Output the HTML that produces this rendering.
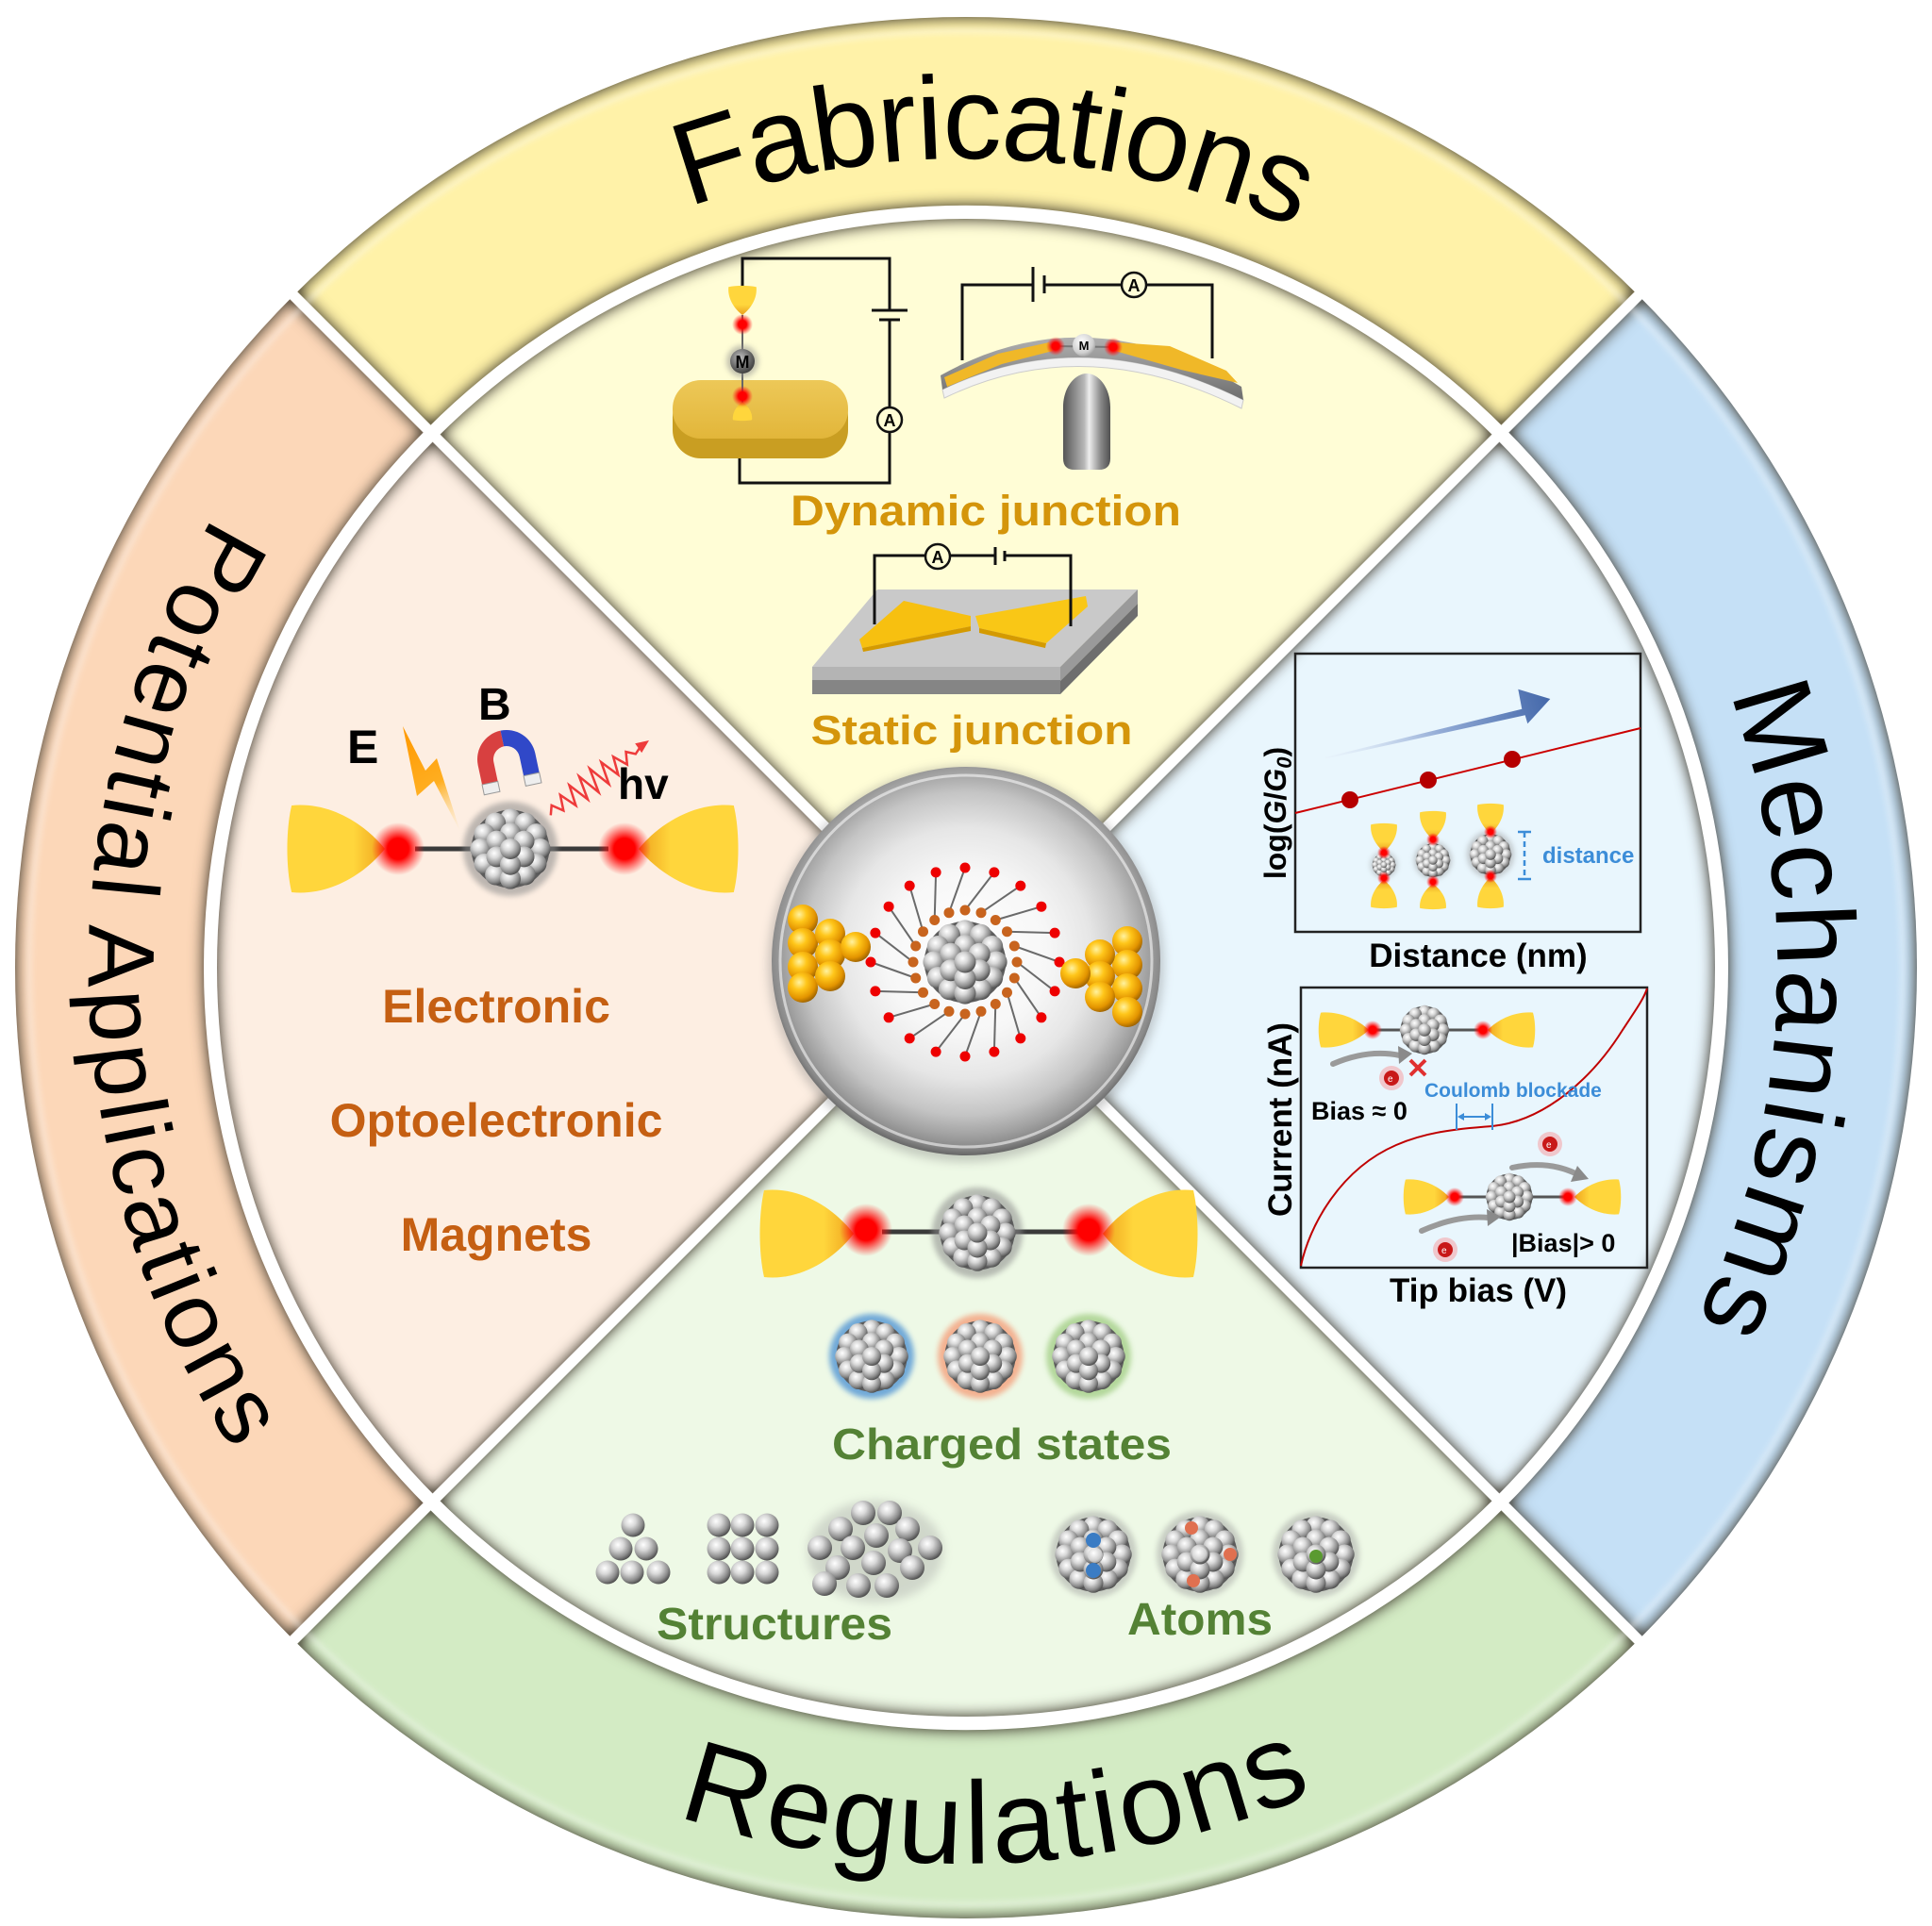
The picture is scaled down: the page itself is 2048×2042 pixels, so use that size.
<!DOCTYPE html>
<html><head><meta charset="utf-8">
<style>
html,body{margin:0;padding:0;background:#fff;width:2048px;height:2042px;overflow:hidden;}
svg{display:block;}
</style></head><body>
<svg width="2048" height="2042" viewBox="0 0 2048 2042" xmlns="http://www.w3.org/2000/svg" xmlns:xlink="http://www.w3.org/1999/xlink" font-family="'Liberation Sans', Arial, sans-serif">
<defs>
 <filter id="bev" x="-5%" y="-5%" width="110%" height="110%" color-interpolation-filters="sRGB">
  <feGaussianBlur in="SourceAlpha" stdDeviation="8" result="b"/>
  <feComposite in="SourceAlpha" in2="b" operator="out" result="e"/>
  <feComponentTransfer in="e" result="e2"><feFuncA type="linear" slope="1.6"/></feComponentTransfer>
  <feFlood flood-color="#3a3428" flood-opacity="0.7"/>
  <feComposite in2="e2" operator="in" result="s"/>
  <feMerge><feMergeNode in="SourceGraphic"/><feMergeNode in="s"/></feMerge>
 </filter>
 <filter id="bl3" x="-50%" y="-50%" width="200%" height="200%"><feGaussianBlur stdDeviation="3"/></filter>
 <filter id="bl5" x="-50%" y="-50%" width="200%" height="200%"><feGaussianBlur stdDeviation="5"/></filter>

 <clipPath id="wT"><polygon points="1024,1018 -100,-106 2148,-106"/></clipPath>
 <clipPath id="wR"><polygon points="1032,1026 2156,-98 2156,2150"/></clipPath>
 <clipPath id="wB"><polygon points="1024,1034 2148,2158 -100,2158"/></clipPath>
 <clipPath id="wL"><polygon points="1016,1026 -108,-98 -108,2150"/></clipPath>

 <path id="ring" fill-rule="evenodd" d="M16,1026 A1008,1008 0 1,0 2032,1026 A1008,1008 0 1,0 16,1026 Z M216,1026 A808,808 0 1,0 1832,1026 A808,808 0 1,0 216,1026 Z"/>
 <circle id="disc" cx="1024" cy="1026" r="794"/>

 <path id="pFab" d="M296.4,571.3 A858,858 0 0 1 1781.6,623.2" fill="none"/>
 <path id="pMech" d="M1492.4,304.7 A860,860 0 0 1 1414.4,1792.3" fill="none"/>
 <path id="pReg" d="M185.2,1471.6 A950,950 0 0 0 1891.8,1412.4" fill="none"/>
 <path id="pPot" d="M687,159.2 A930,930 0 0 0 725.1,1906.7" fill="none"/>

 <radialGradient id="gb" cx=".38" cy=".33" r=".7">
  <stop offset="0" stop-color="#FFF2A0"/><stop offset=".35" stop-color="#FFC61A"/><stop offset=".75" stop-color="#E39400"/><stop offset="1" stop-color="#9C6200"/>
 </radialGradient>
 <radialGradient id="sb" cx=".38" cy=".33" r=".7">
  <stop offset="0" stop-color="#FFFFFF"/><stop offset=".35" stop-color="#D8D8D8"/><stop offset=".75" stop-color="#8C8C8C"/><stop offset="1" stop-color="#4A4A4A"/>
 </radialGradient>
 <radialGradient id="rg">
  <stop offset="0" stop-color="#FF0000" stop-opacity="1"/><stop offset=".4" stop-color="#FF0000" stop-opacity="1"/><stop offset="1" stop-color="#FF2020" stop-opacity="0"/>
 </radialGradient>
 <radialGradient id="mg" cx=".4" cy=".35" r=".7">
  <stop offset="0" stop-color="#bdbdbd"/><stop offset=".6" stop-color="#6a6a6a"/><stop offset="1" stop-color="#3a3a3a"/>
 </radialGradient>
 <radialGradient id="mg2" cx=".4" cy=".35" r=".7">
  <stop offset="0" stop-color="#ffffff"/><stop offset=".7" stop-color="#d0d0d0"/><stop offset="1" stop-color="#9a9a9a"/>
 </radialGradient>
 <linearGradient id="tipL" x1="0" x2="1" y1="0" y2="0">
  <stop offset="0" stop-color="#FFD63C"/><stop offset=".68" stop-color="#FFD63C"/><stop offset="1" stop-color="#EFA21C"/>
 </linearGradient>
 <linearGradient id="tipR" x1="1" x2="0" y1="0" y2="0">
  <stop offset="0" stop-color="#FFD63C"/><stop offset=".68" stop-color="#FFD63C"/><stop offset="1" stop-color="#EFA21C"/>
 </linearGradient>
 <linearGradient id="tipD" x1="0" x2="0" y1="0" y2="1">
  <stop offset="0" stop-color="#FFD63C"/><stop offset=".65" stop-color="#FFD63C"/><stop offset="1" stop-color="#E9A01E"/>
 </linearGradient>
 <linearGradient id="tipU" x1="0" x2="0" y1="1" y2="0">
  <stop offset="0" stop-color="#FFD63C"/><stop offset=".65" stop-color="#FFD63C"/><stop offset="1" stop-color="#E9A01E"/>
 </linearGradient>
 <radialGradient id="sph" cx=".5" cy=".48" r=".52">
  <stop offset="0" stop-color="#FFFFFF"/><stop offset=".4" stop-color="#F7F7F7"/><stop offset=".62" stop-color="#E6E6E6"/><stop offset=".8" stop-color="#C4C4C4"/><stop offset=".9" stop-color="#A2A2A2"/><stop offset=".96" stop-color="#8A8A8A"/><stop offset="1" stop-color="#666666"/>
 </radialGradient>
 <linearGradient id="ba" gradientUnits="userSpaceOnUse" x1="1405" y1="803" x2="1643" y2="741">
  <stop offset="0" stop-color="#E6EEF8" stop-opacity=".3"/><stop offset=".5" stop-color="#93ACD6"/><stop offset="1" stop-color="#4468AA"/>
 </linearGradient>
 <linearGradient id="lg" gradientUnits="userSpaceOnUse" x1="427" y1="770" x2="488" y2="882">
  <stop offset="0" stop-color="#FF9800"/><stop offset=".55" stop-color="#FFAE20"/><stop offset="1" stop-color="#FFE0A0" stop-opacity="0"/>
 </linearGradient>
 <linearGradient id="rod" x1="0" x2="1" y1="0" y2="0">
  <stop offset="0" stop-color="#555"/><stop offset=".45" stop-color="#b8b8b8"/><stop offset=".55" stop-color="#eeeeee"/><stop offset=".8" stop-color="#888"/><stop offset="1" stop-color="#505050"/>
 </linearGradient>
 <linearGradient id="plate" x1="0" x2="0" y1="0" y2="1">
  <stop offset="0" stop-color="#b0b0b0"/><stop offset="1" stop-color="#6e6e6e"/>
 </linearGradient>
 <linearGradient id="gdisc" x1="0" x2="0" y1="0" y2="1">
  <stop offset="0" stop-color="#EDC858"/><stop offset="1" stop-color="#E2B63A"/>
 </linearGradient>

 <symbol id="cl" viewBox="-50 -50 100 100">
  <circle r="47" fill="#5c5c5c"/>
  <g fill="url(#sb)">
   <circle cx="0" cy="-36" r="12.5"/><circle cx="18" cy="-31.2" r="12.5"/><circle cx="-18" cy="-31.2" r="12.5"/>
   <circle cx="31.2" cy="-18" r="12.5"/><circle cx="-31.2" cy="-18" r="12.5"/>
   <circle cx="36" cy="0" r="12.5"/><circle cx="-36" cy="0" r="12.5"/>
   <circle cx="31.2" cy="18" r="12.5"/><circle cx="-31.2" cy="18" r="12.5"/>
   <circle cx="18" cy="31.2" r="12.5"/><circle cx="-18" cy="31.2" r="12.5"/><circle cx="0" cy="36" r="12.5"/>
   <circle cx="0" cy="-19" r="12.5"/><circle cx="16.5" cy="-9.5" r="12.5"/><circle cx="-16.5" cy="-9.5" r="12.5"/>
   <circle cx="16.5" cy="9.5" r="12.5"/><circle cx="-16.5" cy="9.5" r="12.5"/><circle cx="0" cy="19" r="12.5"/>
   <circle cx="0" cy="0" r="12.5"/>
  </g>
 </symbol>
 <symbol id="tl" viewBox="0 -50 100 100" preserveAspectRatio="none" style="overflow:visible">
  <path d="M4,-46 C42,-50 78,-28 100,0 C78,28 42,50 4,46 C-2,20 -2,-20 4,-46 Z" fill="url(#tipL)"/>
 </symbol>
 <symbol id="tr" viewBox="0 -50 100 100" preserveAspectRatio="none" style="overflow:visible">
  <path d="M96,-46 C58,-50 22,-28 0,0 C22,28 58,50 96,46 C102,20 102,-20 96,-46 Z" fill="url(#tipR)"/>
 </symbol>
 <symbol id="td" viewBox="-50 0 100 100" preserveAspectRatio="none" style="overflow:visible">
  <path d="M-46,4 C-50,42 -28,78 0,100 C28,78 50,42 46,4 C20,-2 -20,-2 -46,4 Z" fill="url(#tipD)"/>
 </symbol>
 <symbol id="tu" viewBox="-50 0 100 100" preserveAspectRatio="none" style="overflow:visible">
  <path d="M-46,96 C-50,58 -28,22 0,0 C28,22 50,58 46,96 C20,102 -20,102 -46,96 Z" fill="url(#tipU)"/>
 </symbol>
</defs>

<rect width="2048" height="2042" fill="#fff"/>

<!-- RING SEGMENTS -->
<g filter="url(#bev)"><use href="#ring" fill="#FFF2A8" clip-path="url(#wT)"/></g>
<g filter="url(#bev)"><use href="#ring" fill="#C5E0F6" clip-path="url(#wR)"/></g>
<g filter="url(#bev)"><use href="#ring" fill="#D3EBC4" clip-path="url(#wB)"/></g>
<g filter="url(#bev)"><use href="#ring" fill="#FCD7B8" clip-path="url(#wL)"/></g>
<circle cx="1024" cy="1026" r="993" fill="none" stroke="#fff" stroke-width="6" opacity=".35" filter="url(#bl3)"/>

<!-- INNER DISC QUADRANTS -->
<g filter="url(#bev)"><use href="#disc" fill="#FFFDD6" clip-path="url(#wT)"/></g>
<g filter="url(#bev)"><use href="#disc" fill="#E9F6FD" clip-path="url(#wR)"/></g>
<g filter="url(#bev)"><use href="#disc" fill="#EEF9E6" clip-path="url(#wB)"/></g>
<g filter="url(#bev)"><use href="#disc" fill="#FDEEE2" clip-path="url(#wL)"/></g>

<!-- RING TITLES -->
<g fill="#000">
 <text font-size="125"><textPath href="#pFab" startOffset="568" textLength="660" lengthAdjust="spacing">Fabrications</textPath></text>
 <text font-size="118"><textPath href="#pMech" startOffset="559" textLength="683" lengthAdjust="spacing">Mechanisms</textPath></text>
 <text font-size="124"><textPath href="#pReg" startOffset="716" textLength="690" lengthAdjust="spacing">Regulations</textPath></text>
 <text font-size="100"><textPath href="#pPot" startOffset="614" textLength="1044" lengthAdjust="spacing">Potential Applications</textPath></text>
</g>

<!-- ============ TOP: FABRICATIONS ============ -->
<g stroke="#111" stroke-width="3" fill="none">
 <polyline points="787,303 787,274 943,274 943,329"/>
 <line x1="924" y1="329" x2="962" y2="329"/>
 <line x1="932" y1="339" x2="954" y2="339"/>
 <polyline points="943,339 943,432"/>
 <circle cx="943" cy="445" r="13" stroke-width="2.5"/>
 <polyline points="943,458 943,512 784,512 784,480"/>
</g>
<text x="943" y="452" font-size="18" font-weight="bold" text-anchor="middle">A</text>
<rect x="713" y="412" width="186" height="74" rx="30" fill="#C99E22"/>
<rect x="713" y="403" width="186" height="62" rx="30" fill="url(#gdisc)"/>
<line x1="787" y1="334" x2="787" y2="430" stroke="#666" stroke-width="2"/>
<use href="#tu" x="776" y="426" width="22" height="20"/>
<circle cx="787" cy="344" r="11" fill="url(#rg)"/>
<circle cx="787" cy="420" r="11" fill="url(#rg)"/>
<circle cx="787" cy="383" r="17" fill="#888" opacity=".5" filter="url(#bl3)"/>
<circle cx="787" cy="383" r="13" fill="url(#mg)"/>
<text x="787" y="390" font-size="18" font-weight="bold" text-anchor="middle">M</text>
<use href="#td" x="771" y="303" width="32" height="31"/>

<!-- MCBJ circuit -->
<g stroke="#111" stroke-width="3" fill="none">
 <polyline points="1020,382 1020,302 1095,302"/>
 <line x1="1095" y1="283" x2="1095" y2="320"/>
 <line x1="1107" y1="292" x2="1107" y2="311"/>
 <polyline points="1107,302 1189,302"/>
 <circle cx="1202" cy="302" r="13" stroke-width="2.5"/>
 <polyline points="1215,302 1285,302 1285,380"/>
</g>
<text x="1202" y="309" font-size="18" font-weight="bold" text-anchor="middle">A</text>
<path d="M1127,496 L1127,432 C1127,410 1140,396 1152,396 C1164,396 1177,410 1177,432 L1177,486 Q1177,498 1165,498 L1139,498 Q1127,498 1127,486 Z" fill="url(#rod)"/>
<path d="M999,413 Q1150,340 1318,424 L1316,433 Q1150,350 1001,422 Z" fill="#f2f2f2" stroke="#ccc" stroke-width="1"/>
<path d="M997,398 Q1150,312 1316,410 L1318,424 Q1150,340 999,413 Z" fill="url(#plate)"/>
<path d="M1001,400 L1058,375 L1112,363 L1116,372 L1062,386 L1004,410 Z" fill="#F0B828"/>
<path d="M1184,363 L1240,367 L1300,393 L1312,406 L1252,392 L1182,372 Z" fill="#F0B828"/>
<line x1="1119" y1="367" x2="1180" y2="368" stroke="#777" stroke-width="2"/>
<circle cx="1119" cy="367" r="10" fill="url(#rg)"/>
<circle cx="1180" cy="368" r="10" fill="url(#rg)"/>
<circle cx="1149" cy="366" r="12" fill="url(#mg2)"/>
<text x="1149" y="371" font-size="13" font-weight="bold" text-anchor="middle">M</text>

<text x="1045" y="557" font-size="45" font-weight="bold" fill="#D4950B" text-anchor="middle" textLength="414" lengthAdjust="spacingAndGlyphs">Dynamic junction</text>

<!-- Static junction -->
<polygon points="930,625 1206,625 1124,707 861,707" fill="#C9C9C9"/>
<polygon points="861,707 1124,707 1124,721 861,721" fill="#B4B4B4"/>
<polygon points="861,721 1124,721 1124,736 861,736" fill="#858585"/>
<polygon points="1124,707 1206,625 1206,640 1124,722" fill="#9a9a9a"/>
<polygon points="1124,722 1206,640 1206,653 1124,736" fill="#6e6e6e"/>
<polygon points="911,678 958,637 1029,653 1029,664 914,687" fill="#F7C010"/>
<polygon points="914,687 1029,664 1029,669 915,691" fill="#D49A00"/>
<polygon points="1034,653 1151,632 1153,643 1109,682 1038,666" fill="#F9C716"/>
<polygon points="1038,666 1109,682 1108,687 1038,671" fill="#D49A00"/>
<g stroke="#111" stroke-width="3" fill="none">
 <polyline points="927,662 927,589 981,589"/>
 <circle cx="994" cy="590" r="13" stroke-width="2.5"/>
 <polyline points="1007,589 1055,589"/>
 <line x1="1055" y1="580" x2="1055" y2="599"/>
 <line x1="1065" y1="584" x2="1065" y2="595"/>
 <polyline points="1065,589 1135,589 1135,664"/>
</g>
<text x="994" y="597" font-size="18" font-weight="bold" text-anchor="middle">A</text>
<text x="1030" y="789" font-size="44" font-weight="bold" fill="#D4950B" text-anchor="middle" textLength="341" lengthAdjust="spacingAndGlyphs">Static junction</text>

<!-- ============ LEFT: APPLICATIONS ============ -->
<text x="368" y="809" font-size="50" font-weight="bold">E</text>
<text x="507" y="763" font-size="48" font-weight="bold">B</text>
<text x="655" y="847" font-size="46" font-weight="bold">hv</text>
<polygon points="427,770 451,817 463,804 488,882 460,828 442,844" fill="url(#lg)"/>
<g transform="rotate(-12 537 805)">
 <path d="M506,835 L506,805 A31,31 0 0 1 537,774 L537,791 A14,14 0 0 0 523,805 L523,835 Z" fill="#D84040"/>
 <path d="M537,774 A31,31 0 0 1 568,805 L568,835 L551,835 L551,805 A14,14 0 0 0 537,791 Z" fill="#3048C8"/>
 <rect x="506" y="826" width="17" height="11" fill="#eee" stroke="#999" stroke-width="1"/>
 <rect x="551" y="826" width="17" height="11" fill="#eee" stroke="#999" stroke-width="1"/>
</g>
<polyline points="583.8,864.4 584.7,853.9 597.3,859.4 593.9,842.9 610.4,854 603.5,832.5 623,847.5 613.9,823.2 634.6,840 625.1,815 645.5,831.3 637.3,808.1 655.4,821.5 650.1,802.3 664.8,810.6 663.5,797.1 673.8,799.4 678,793" fill="none" stroke="#EE3B3B" stroke-width="2.5"/>
<polygon points="688,785 673.2,788.3 680.2,798.1" fill="#EE3B3B"/>

<use href="#tl" x="305" y="850" width="103" height="100"/>
<use href="#tr" x="677" y="850" width="105" height="100"/>
<line x1="440" y1="900" x2="645" y2="900" stroke="#3a3a3a" stroke-width="5"/>
<circle cx="422" cy="900" r="28" fill="url(#rg)"/>
<circle cx="662" cy="900" r="28" fill="url(#rg)"/>
<circle cx="541" cy="900" r="50" fill="#888" opacity=".55" filter="url(#bl3)"/>
<use href="#cl" x="497" y="856" width="88" height="88"/>

<g font-size="50" font-weight="bold" fill="#C55F12" text-anchor="middle">
 <text x="526" y="1084">Electronic</text>
 <text x="526" y="1205">Optoelectronic</text>
 <text x="526" y="1326">Magnets</text>
</g>

<!-- ============ RIGHT: MECHANISMS ============ -->
<rect x="1373" y="693" width="366" height="295" fill="none" stroke="#222" stroke-width="2.5"/>
<polygon points="1405,802.7 1613.3,751.7 1609.3,730.7 1643.3,741 1619.3,767.3 1616.7,758.3 1405,804.5" fill="url(#ba)"/>
<line x1="1373" y1="862" x2="1739" y2="772" stroke="#CC0000" stroke-width="2"/>
<circle cx="1431" cy="848" r="9" fill="#B50000"/>
<circle cx="1514" cy="827" r="9" fill="#B50000"/>
<circle cx="1603" cy="805" r="9" fill="#B50000"/>

<use href="#td" x="1452" y="873" width="30" height="30"/>
<use href="#tu" x="1452" y="933" width="30" height="30"/>
<circle cx="1467" cy="917" r="14" fill="#999" opacity=".5" filter="url(#bl3)"/>
<use href="#cl" x="1454" y="904" width="26" height="26"/>
<circle cx="1467" cy="904" r="7" fill="url(#rg)"/><circle cx="1467" cy="931" r="7" fill="url(#rg)"/>

<use href="#td" x="1504" y="860" width="30" height="30"/>
<use href="#tu" x="1504" y="937" width="30" height="27"/>
<circle cx="1519" cy="912" r="20" fill="#999" opacity=".5" filter="url(#bl3)"/>
<use href="#cl" x="1500" y="893" width="38" height="38"/>
<circle cx="1519" cy="890" r="7" fill="url(#rg)"/><circle cx="1519" cy="935" r="7" fill="url(#rg)"/>

<use href="#td" x="1565" y="852" width="30" height="32"/>
<use href="#tu" x="1565" y="930" width="30" height="33"/>
<circle cx="1580" cy="906" r="25" fill="#999" opacity=".5" filter="url(#bl3)"/>
<use href="#cl" x="1557" y="883" width="46" height="46"/>
<circle cx="1580" cy="882" r="7" fill="url(#rg)"/><circle cx="1580" cy="929" r="7" fill="url(#rg)"/>

<g stroke="#3C8DD8" stroke-width="2.5">
 <line x1="1616" y1="882" x2="1616" y2="932" stroke-dasharray="6 4"/>
 <line x1="1609" y1="882" x2="1623" y2="882"/>
 <line x1="1609" y1="932" x2="1623" y2="932"/>
</g>
<text x="1635" y="915" font-size="24" font-weight="bold" fill="#3C8DD8">distance</text>

<text transform="translate(1363,862) rotate(-90)" font-size="32" font-weight="bold" text-anchor="middle">log(<tspan font-style="italic">G</tspan>/<tspan font-style="italic">G</tspan><tspan font-size="22" dy="6" font-style="italic">0</tspan><tspan dy="-6">)</tspan></text>
<text x="1567" y="1025" font-size="35" font-weight="bold" text-anchor="middle">Distance (nm)</text>

<!-- chart 2 -->
<rect x="1379" y="1047" width="367" height="297" fill="none" stroke="#222" stroke-width="2.5"/>
<path d="M1379,1342 C1388,1300 1420,1240 1480,1214 C1510,1201 1540,1197 1582,1194 C1640,1188 1690,1140 1720,1092 C1733,1072 1742,1060 1746,1048" fill="none" stroke="#C00000" stroke-width="2"/>

<use href="#tl" x="1398" y="1072" width="53" height="40"/>
<use href="#tr" x="1577" y="1072" width="50" height="40"/>
<line x1="1455" y1="1092" x2="1572" y2="1092" stroke="#555" stroke-width="3"/>
<circle cx="1455" cy="1092" r="10" fill="url(#rg)"/>
<circle cx="1572" cy="1092" r="10" fill="url(#rg)"/>
<use href="#cl" x="1483" y="1065" width="54" height="54"/>
<path d="M1413,1128 Q1450,1112 1484,1119" fill="none" stroke="#9a9a9a" stroke-width="6" stroke-linecap="round"/>
<polygon points="1497,1117 1482,1109 1483,1128" fill="#8a8a8a"/>
<g stroke="#E03030" stroke-width="4"><line x1="1495" y1="1124" x2="1511" y2="1140"/><line x1="1511" y1="1124" x2="1495" y2="1140"/></g>
<circle cx="1475" cy="1143" r="13" fill="#ff7070" opacity=".35"/><circle cx="1475" cy="1143" r="8" fill="#C81818"/>
<text x="1471" y="1147" font-size="10" fill="#fff">e</text>
<text x="1510" y="1163" font-size="21" font-weight="bold" fill="#3C8DD8">Coulomb blockade</text>
<g stroke="#3C8DD8" stroke-width="2">
 <line x1="1544" y1="1170" x2="1544" y2="1198"/><line x1="1582" y1="1170" x2="1582" y2="1198"/>
 <line x1="1547" y1="1184" x2="1579" y2="1184"/>
</g>
<polygon points="1545,1184 1552,1180 1552,1188" fill="#3C8DD8"/>
<polygon points="1581,1184 1574,1180 1574,1188" fill="#3C8DD8"/>
<text x="1390" y="1187" font-size="27" font-weight="bold">Bias ≈ 0</text>

<use href="#tl" x="1488" y="1249" width="48" height="40"/>
<use href="#tr" x="1669" y="1249" width="49" height="40"/>
<line x1="1542" y1="1269" x2="1662" y2="1269" stroke="#555" stroke-width="3"/>
<circle cx="1542" cy="1269" r="10" fill="url(#rg)"/>
<circle cx="1662" cy="1269" r="10" fill="url(#rg)"/>
<use href="#cl" x="1574" y="1243" width="52" height="52"/>
<path d="M1507,1305 Q1545,1288 1578,1291" fill="none" stroke="#9a9a9a" stroke-width="6" stroke-linecap="round"/>
<polygon points="1591,1290 1576,1282 1577,1300" fill="#8a8a8a"/>
<path d="M1603,1238 Q1640,1230 1670,1244" fill="none" stroke="#9a9a9a" stroke-width="6" stroke-linecap="round"/>
<polygon points="1684,1250 1672,1236 1665,1253" fill="#8a8a8a"/>
<circle cx="1532" cy="1325" r="13" fill="#ff7070" opacity=".35"/><circle cx="1532" cy="1325" r="8" fill="#C81818"/>
<text x="1528" y="1329" font-size="10" fill="#fff">e</text>
<circle cx="1643" cy="1213" r="13" fill="#ff7070" opacity=".35"/><circle cx="1643" cy="1213" r="8" fill="#C81818"/>
<text x="1639" y="1217" font-size="10" fill="#fff">e</text>
<text x="1602" y="1327" font-size="27" font-weight="bold">|Bias|&gt; 0</text>

<text transform="translate(1369,1187) rotate(-90)" font-size="35" font-weight="bold" text-anchor="middle">Current (nA)</text>
<text x="1567" y="1380" font-size="35" font-weight="bold" text-anchor="middle">Tip bias (V)</text>

<!-- ============ BOTTOM: REGULATIONS ============ -->
<use href="#tl" x="806" y="1258" width="99" height="100"/>
<use href="#tr" x="1169" y="1258" width="100" height="100"/>
<line x1="935" y1="1306" x2="1145" y2="1306" stroke="#3a3a3a" stroke-width="5"/>
<circle cx="918" cy="1304" r="28" fill="url(#rg)"/>
<circle cx="1154" cy="1304" r="28" fill="url(#rg)"/>
<circle cx="1036" cy="1307" r="48" fill="#888" opacity=".55" filter="url(#bl3)"/>
<use href="#cl" x="994" y="1265" width="84" height="84"/>

<circle cx="924" cy="1438" r="45" fill="#5B9BD5" opacity=".85" filter="url(#bl3)"/>
<circle cx="1039" cy="1438" r="45" fill="#F4A582" opacity=".85" filter="url(#bl3)"/>
<circle cx="1154" cy="1438" r="45" fill="#A9D18E" opacity=".85" filter="url(#bl3)"/>
<use href="#cl" x="884" y="1398" width="80" height="80"/>
<use href="#cl" x="999" y="1398" width="80" height="80"/>
<use href="#cl" x="1114" y="1398" width="80" height="80"/>
<text x="1062" y="1547" font-size="46" font-weight="bold" fill="#548235" text-anchor="middle" textLength="360" lengthAdjust="spacingAndGlyphs">Charged states</text>

<g fill="url(#sb)">
 <circle cx="671" cy="1617" r="12.5"/>
 <circle cx="658" cy="1642" r="12.5"/><circle cx="685" cy="1642" r="12.5"/>
 <circle cx="644" cy="1667" r="12.5"/><circle cx="670" cy="1667" r="12.5"/><circle cx="698" cy="1667" r="12.5"/>
 <circle cx="762" cy="1617" r="12.5"/><circle cx="787" cy="1617" r="12.5"/><circle cx="813" cy="1617" r="12.5"/>
 <circle cx="762" cy="1642" r="12.5"/><circle cx="787" cy="1642" r="12.5"/><circle cx="813" cy="1642" r="12.5"/>
 <circle cx="762" cy="1667" r="12.5"/><circle cx="787" cy="1667" r="12.5"/><circle cx="813" cy="1667" r="12.5"/>
</g>
<ellipse cx="928" cy="1645" rx="72" ry="54" fill="#999" opacity=".35" filter="url(#bl5)"/>
<g fill="url(#sb)">
 <circle cx="915" cy="1604" r="13"/><circle cx="943" cy="1604" r="13"/>
 <circle cx="891" cy="1621" r="13"/><circle cx="962" cy="1621" r="13"/><circle cx="929" cy="1628" r="13"/>
 <circle cx="869" cy="1641" r="13"/><circle cx="904" cy="1641" r="13"/><circle cx="954" cy="1644" r="13"/><circle cx="986" cy="1641" r="13"/>
 <circle cx="926" cy="1657" r="13"/><circle cx="888" cy="1662" r="13"/><circle cx="967" cy="1662" r="13"/>
 <circle cx="874" cy="1679" r="13"/><circle cx="910" cy="1681" r="13"/><circle cx="940" cy="1681" r="13"/>
</g>

<circle cx="1159" cy="1648" r="46" fill="#999" opacity=".45" filter="url(#bl3)"/>
<circle cx="1272" cy="1648" r="46" fill="#999" opacity=".45" filter="url(#bl3)"/>
<circle cx="1395" cy="1648" r="46" fill="#999" opacity=".45" filter="url(#bl3)"/>
<use href="#cl" x="1117" y="1606" width="84" height="84"/>
<use href="#cl" x="1230" y="1606" width="84" height="84"/>
<use href="#cl" x="1353" y="1606" width="84" height="84"/>
<circle cx="1159" cy="1633" r="8" fill="#3A7CC4"/><circle cx="1159" cy="1665" r="8" fill="#3A7CC4"/>
<circle cx="1161" cy="1649" r="8" fill="url(#mg2)"/>
<circle cx="1263" cy="1620" r="7" fill="#E07050"/><circle cx="1304" cy="1648" r="7" fill="#E07050"/><circle cx="1265" cy="1676" r="7" fill="#E07050"/>
<circle cx="1272" cy="1648" r="8" fill="url(#mg2)"/>
<circle cx="1395" cy="1650" r="7" fill="#5A9A30"/>

<text x="821" y="1738" font-size="48" font-weight="bold" fill="#548235" text-anchor="middle" textLength="250" lengthAdjust="spacingAndGlyphs">Structures</text>
<text x="1272" y="1733" font-size="48" font-weight="bold" fill="#548235" text-anchor="middle" textLength="154" lengthAdjust="spacingAndGlyphs">Atoms</text>

<!-- ============ CENTER SPHERE ============ -->
<circle cx="1024" cy="1022" r="210" fill="#777" opacity=".35" filter="url(#bl5)"/>
<circle cx="1024" cy="1019" r="206" fill="url(#sph)"/>
<circle cx="1024" cy="1019" r="197" fill="none" stroke="#fff" stroke-width="3" opacity=".55"/>

<!-- ligands -->
<g stroke="#6a6a6a" stroke-width="2" fill="none">
 <line x1="1078" y1="1020" x2="1118.1" y2="1050.9"/>
 <line x1="1075.3" y1="1037" x2="1103.9" y2="1078.8"/>
 <line x1="1067.5" y1="1052.3" x2="1081.8" y2="1100.9"/>
 <line x1="1055.3" y1="1064.5" x2="1053.9" y2="1115.1"/>
 <line x1="1040" y1="1072.3" x2="1023" y2="1120"/>
 <line x1="1023" y1="1075" x2="992.1" y2="1115.1"/>
 <line x1="1006" y1="1072.3" x2="964.2" y2="1100.9"/>
 <line x1="990.7" y1="1064.5" x2="942.1" y2="1078.8"/>
 <line x1="978.5" y1="1052.3" x2="927.9" y2="1050.9"/>
 <line x1="970.7" y1="1037" x2="923" y2="1020"/>
 <line x1="968" y1="1020" x2="927.9" y2="989.1"/>
 <line x1="970.7" y1="1003" x2="942.1" y2="961.2"/>
 <line x1="978.5" y1="987.7" x2="964.2" y2="939.1"/>
 <line x1="990.7" y1="975.5" x2="992.1" y2="924.9"/>
 <line x1="1006" y1="967.7" x2="1023" y2="920"/>
 <line x1="1023" y1="965" x2="1053.9" y2="924.9"/>
 <line x1="1040" y1="967.7" x2="1081.8" y2="939.1"/>
 <line x1="1055.3" y1="975.5" x2="1103.9" y2="961.2"/>
 <line x1="1067.5" y1="987.7" x2="1118.1" y2="989.1"/>
 <line x1="1075.3" y1="1003" x2="1123" y2="1020"/>
</g>
<use href="#cl" x="977" y="974" width="92" height="92"/>
<g fill="#C8641E">
 <circle cx="1078" cy="1020" r="5.5"/><circle cx="1075.3" cy="1037" r="5.5"/><circle cx="1067.5" cy="1052.3" r="5.5"/><circle cx="1055.3" cy="1064.5" r="5.5"/>
 <circle cx="1040" cy="1072.3" r="5.5"/><circle cx="1023" cy="1075" r="5.5"/><circle cx="1006" cy="1072.3" r="5.5"/><circle cx="990.7" cy="1064.5" r="5.5"/>
 <circle cx="978.5" cy="1052.3" r="5.5"/><circle cx="970.7" cy="1037" r="5.5"/><circle cx="968" cy="1020" r="5.5"/><circle cx="970.7" cy="1003" r="5.5"/>
 <circle cx="978.5" cy="987.7" r="5.5"/><circle cx="990.7" cy="975.5" r="5.5"/><circle cx="1006" cy="967.7" r="5.5"/><circle cx="1023" cy="965" r="5.5"/>
 <circle cx="1040" cy="967.7" r="5.5"/><circle cx="1055.3" cy="975.5" r="5.5"/><circle cx="1067.5" cy="987.7" r="5.5"/><circle cx="1075.3" cy="1003" r="5.5"/>
</g>
<g fill="#EE0000">
 <circle cx="1123" cy="1020" r="5.5"/><circle cx="1118.1" cy="1050.9" r="5.5"/><circle cx="1103.9" cy="1078.8" r="5.5"/><circle cx="1081.8" cy="1100.9" r="5.5"/>
 <circle cx="1053.9" cy="1115.1" r="5.5"/><circle cx="1023" cy="1120" r="5.5"/><circle cx="992.1" cy="1115.1" r="5.5"/><circle cx="964.2" cy="1100.9" r="5.5"/>
 <circle cx="942.1" cy="1078.8" r="5.5"/><circle cx="927.9" cy="1050.9" r="5.5"/><circle cx="923" cy="1020" r="5.5"/><circle cx="927.9" cy="989.1" r="5.5"/>
 <circle cx="942.1" cy="961.2" r="5.5"/><circle cx="964.2" cy="939.1" r="5.5"/><circle cx="992.1" cy="924.9" r="5.5"/><circle cx="1023" cy="920" r="5.5"/>
 <circle cx="1053.9" cy="924.9" r="5.5"/><circle cx="1081.8" cy="939.1" r="5.5"/><circle cx="1103.9" cy="961.2" r="5.5"/><circle cx="1118.1" cy="989.1" r="5.5"/>
</g>

<!-- gold clusters -->
<g fill="url(#gb)">
 <circle cx="851" cy="975" r="16"/><circle cx="851" cy="1000" r="16"/><circle cx="851" cy="1025" r="16"/><circle cx="851" cy="1047" r="16"/>
 <circle cx="880" cy="990" r="16"/><circle cx="880" cy="1012" r="16"/><circle cx="880" cy="1035" r="16"/>
 <circle cx="907" cy="1004" r="16"/>
 <circle cx="1195" cy="998" r="16"/><circle cx="1195" cy="1023" r="16"/><circle cx="1195" cy="1048" r="16"/><circle cx="1195" cy="1073" r="16"/>
 <circle cx="1166" cy="1012" r="16"/><circle cx="1166" cy="1035" r="16"/><circle cx="1166" cy="1057" r="16"/>
 <circle cx="1140" cy="1032" r="16"/>
</g>
</svg>
</body></html>
